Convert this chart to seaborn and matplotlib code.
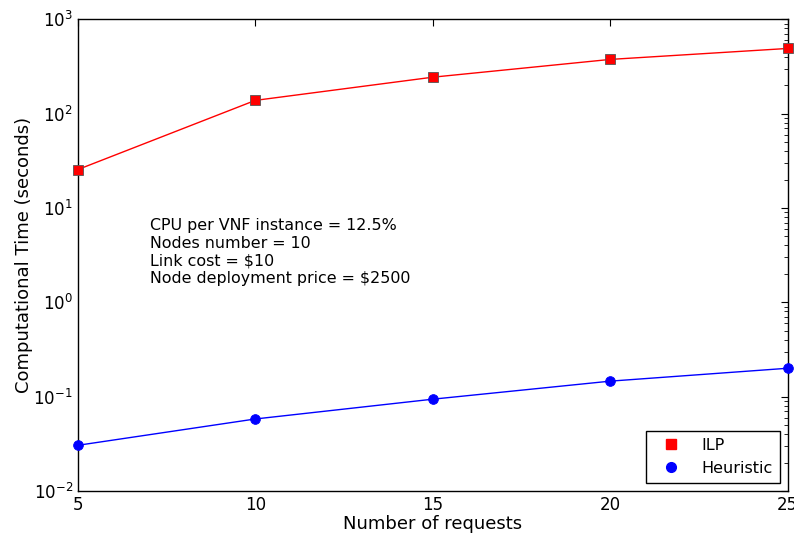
import matplotlib
matplotlib.use("Agg")
import matplotlib.pyplot as plt
import seaborn as sns
import pandas as pd
from matplotlib.lines import Line2D

requests = [5, 10, 15, 20, 25]
ilp_time = [25.5, 138, 243, 375, 490]
heuristic_time = [0.0305, 0.058, 0.094, 0.146, 0.200]
series_names = ["ILP", "Heuristic"]
colors = ["#ff0000", "#0000ff"]
markers = ["s", "o"]

df = pd.concat([
    pd.DataFrame({"requests": requests, "time": ilp_time, "method": series_names[0]}),
    pd.DataFrame({"requests": requests, "time": heuristic_time, "method": series_names[1]}),
])

sns.set_style("white")
plt.rcParams["font.family"] = ["DejaVu Sans"]
plt.rcParams["text.color"] = "black"
plt.rcParams["axes.labelcolor"] = "black"
fig = plt.figure(figsize=(7.94, 5.34), dpi=100)
ax = fig.add_axes([0.098, 0.0805, 0.894, 0.8835])

for name, c, m in zip(series_names, colors, markers):
    sub = df[df["method"] == name]
    sns.lineplot(data=sub, x="requests", y="time", ax=ax, color=c, marker=m,
                 markersize=7, markeredgecolor=c if m == "o" else "#555555",
                 markeredgewidth=0.6, linewidth=1, alpha=1, legend=False,
                 clip_on=False, zorder=3)

ax.set_yscale("log")
ax.set_ylim(1e-2, 1e3)
ax.set_xlim(5, 25)
ax.set_xticks(requests)
ax.tick_params(axis="both", which="both", direction="in", top=True, right=True,
               labelsize=12, colors="black")
ax.tick_params(which="major", length=5)
ax.tick_params(which="minor", length=3)
for s in ax.spines.values():
    s.set_color("black")
    s.set_linewidth(1)
ax.set_xlabel("Number of requests", fontsize=13, labelpad=1)
ax.set_ylabel("Computational Time (seconds)", fontsize=13, labelpad=0)

ax.text(0.101, 0.578,
        "CPU per VNF instance = 12.5%\nNodes number = 10\nLink cost = $10\nNode deployment price = $2500",
        transform=ax.transAxes, fontsize=11.4, va="top", ha="left", linespacing=1.2,
        color="black")

handles = [Line2D([], [], linestyle="none", marker=m, color=c, markersize=7,
                  markeredgecolor=c) for c, m in zip(colors, markers)]
leg = ax.legend(handles, series_names, loc="lower right", fontsize=11.5,
                fancybox=False, frameon=True, edgecolor="black", framealpha=1,
                handlelength=2.2, borderpad=0.45, labelspacing=0.5,
                borderaxespad=0.5)
leg.get_frame().set_linewidth(1)

fig.savefig("out.png", dpi=100)
